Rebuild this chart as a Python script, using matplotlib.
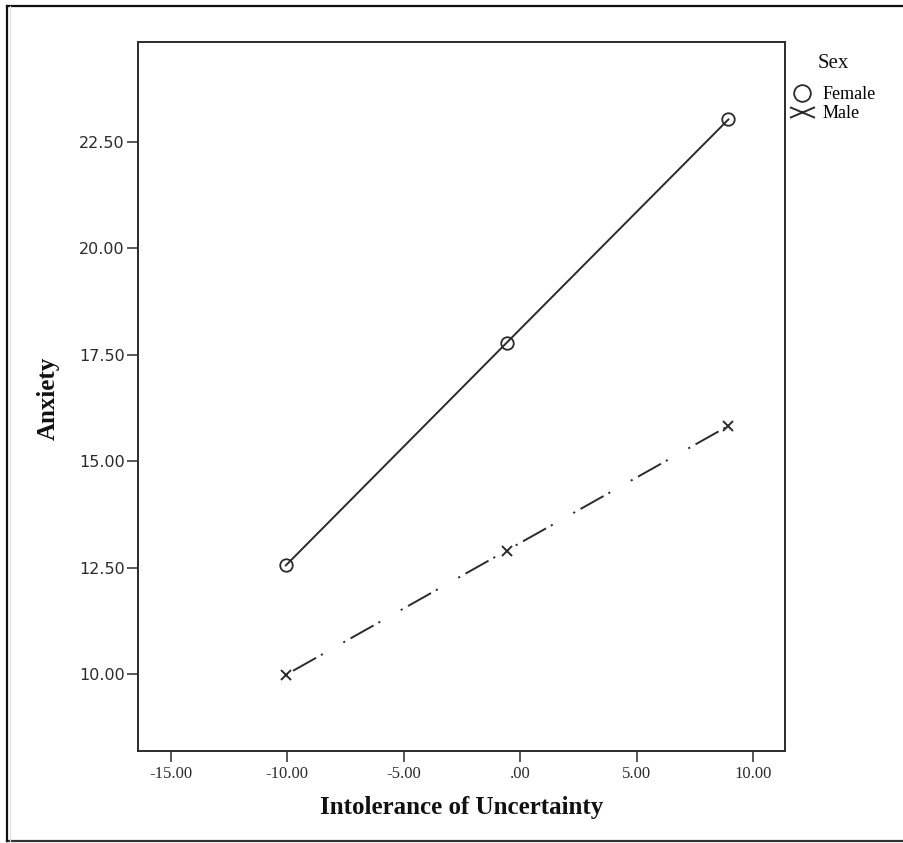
import matplotlib
matplotlib.use('Agg')
import matplotlib.pyplot as plt
from matplotlib.lines import Line2D
from matplotlib.path import Path

# values
iu = [-10.06, -0.59, 8.93]
female = [12.55, 17.78, 23.03]
male = [9.98, 12.90, 15.83]
x_ticks = [-15, -10, -5, 0, 5, 10]
x_tick_labels = ['-15.00', '-10.00', '-5.00', '.00', '5.00', '10.00']
y_ticks = [10, 12.5, 15, 17.5, 20, 22.5]
y_tick_labels = ['10.00', '12.50', '15.00', '17.50', '20.00', '22.50']

plt.rcParams['lines.scale_dashes'] = False
serif = 'Liberation Serif'
ink = '#2b2b2b'

fig = plt.figure(figsize=(9.04, 8.43), dpi=100)
ax = fig.add_axes([0.1527, 0.1091, 0.7157, 0.8411])

ax.plot(iu, female, '-', color=ink, linewidth=1.4, marker='o', markersize=9,
        markerfacecolor='none', markeredgecolor=ink, markeredgewidth=1.3)
ax.plot(iu, male, color=ink, linewidth=1.4, dashes=(1.5, 4.5, 19, 4, 1.5, 17),
        marker='x', markersize=7, markeredgewidth=1.4, markeredgecolor=ink)

ax.set_xlim(-16.4, 11.36)
ax.set_ylim(8.19, 24.85)
ax.set_xticks(x_ticks)
ax.set_xticklabels(x_tick_labels, family=serif, fontsize=12)
ax.set_yticks(y_ticks)
ax.set_yticklabels(y_tick_labels, family='DejaVu Sans', fontsize=11.5)
ax.tick_params(direction='out', length=8, width=1.1, color=ink, labelcolor=ink)
ax.tick_params(axis='x', pad=3)
ax.tick_params(axis='y', pad=1.5)
for s in ax.spines.values():
    s.set_linewidth(1.4)
    s.set_color(ink)

ax.set_xlabel('Intolerance of Uncertainty', family=serif, fontweight='bold',
              fontsize=18, color='#111111', labelpad=10)
fig.text(48 / 904, 1 - 398 / 843, 'Anxiety', family=serif, fontweight='bold',
         fontsize=18, color='#111111', rotation=90, ha='center', va='center')

# legend outside the axes, markers only
fig.text(833 / 904, 1 - 64 / 843, 'Sex', family=serif, fontsize=15,
         color='#111111', ha='center', va='center')
flat_x = Path([(-1.3, -0.55), (1.3, 0.55), (-1.3, 0.55), (1.3, -0.55)],
              [Path.MOVETO, Path.LINETO, Path.MOVETO, Path.LINETO])
h_f = Line2D([], [], linestyle='none', marker='o', markersize=12,
             markerfacecolor='none', markeredgecolor=ink, markeredgewidth=1.3)
h_m = Line2D([], [], linestyle='none', marker=flat_x, markersize=18,
             markeredgecolor=ink, markeredgewidth=1.4)
fig.legend([h_f, h_m], ['Female', 'Male'], loc='upper left',
           bbox_to_anchor=(790 / 904, 1 - 86 / 843), frameon=False,
           prop={'family': serif, 'size': 13},
           handlelength=1.3, handletextpad=0.5, labelspacing=0.12,
           borderaxespad=0, borderpad=0)

# outer border of the screenshot
x0, y0, y1 = 7 / 904, 2 / 843, 1 - 6 / 843
fig.add_artist(Line2D([x0, 1], [y1, y1], color='#111111', linewidth=1.6))
fig.add_artist(Line2D([x0, 1], [y0, y0], color='#333333', linewidth=1.6))
fig.add_artist(Line2D([x0, x0], [y0, y1], color='#111111', linewidth=1.6))
fig.add_artist(Line2D([x0 + 3 / 904, x0 + 3 / 904], [y0, y1], color='#cfe2f7', linewidth=0.8))

fig.savefig('out.png', dpi=100)
